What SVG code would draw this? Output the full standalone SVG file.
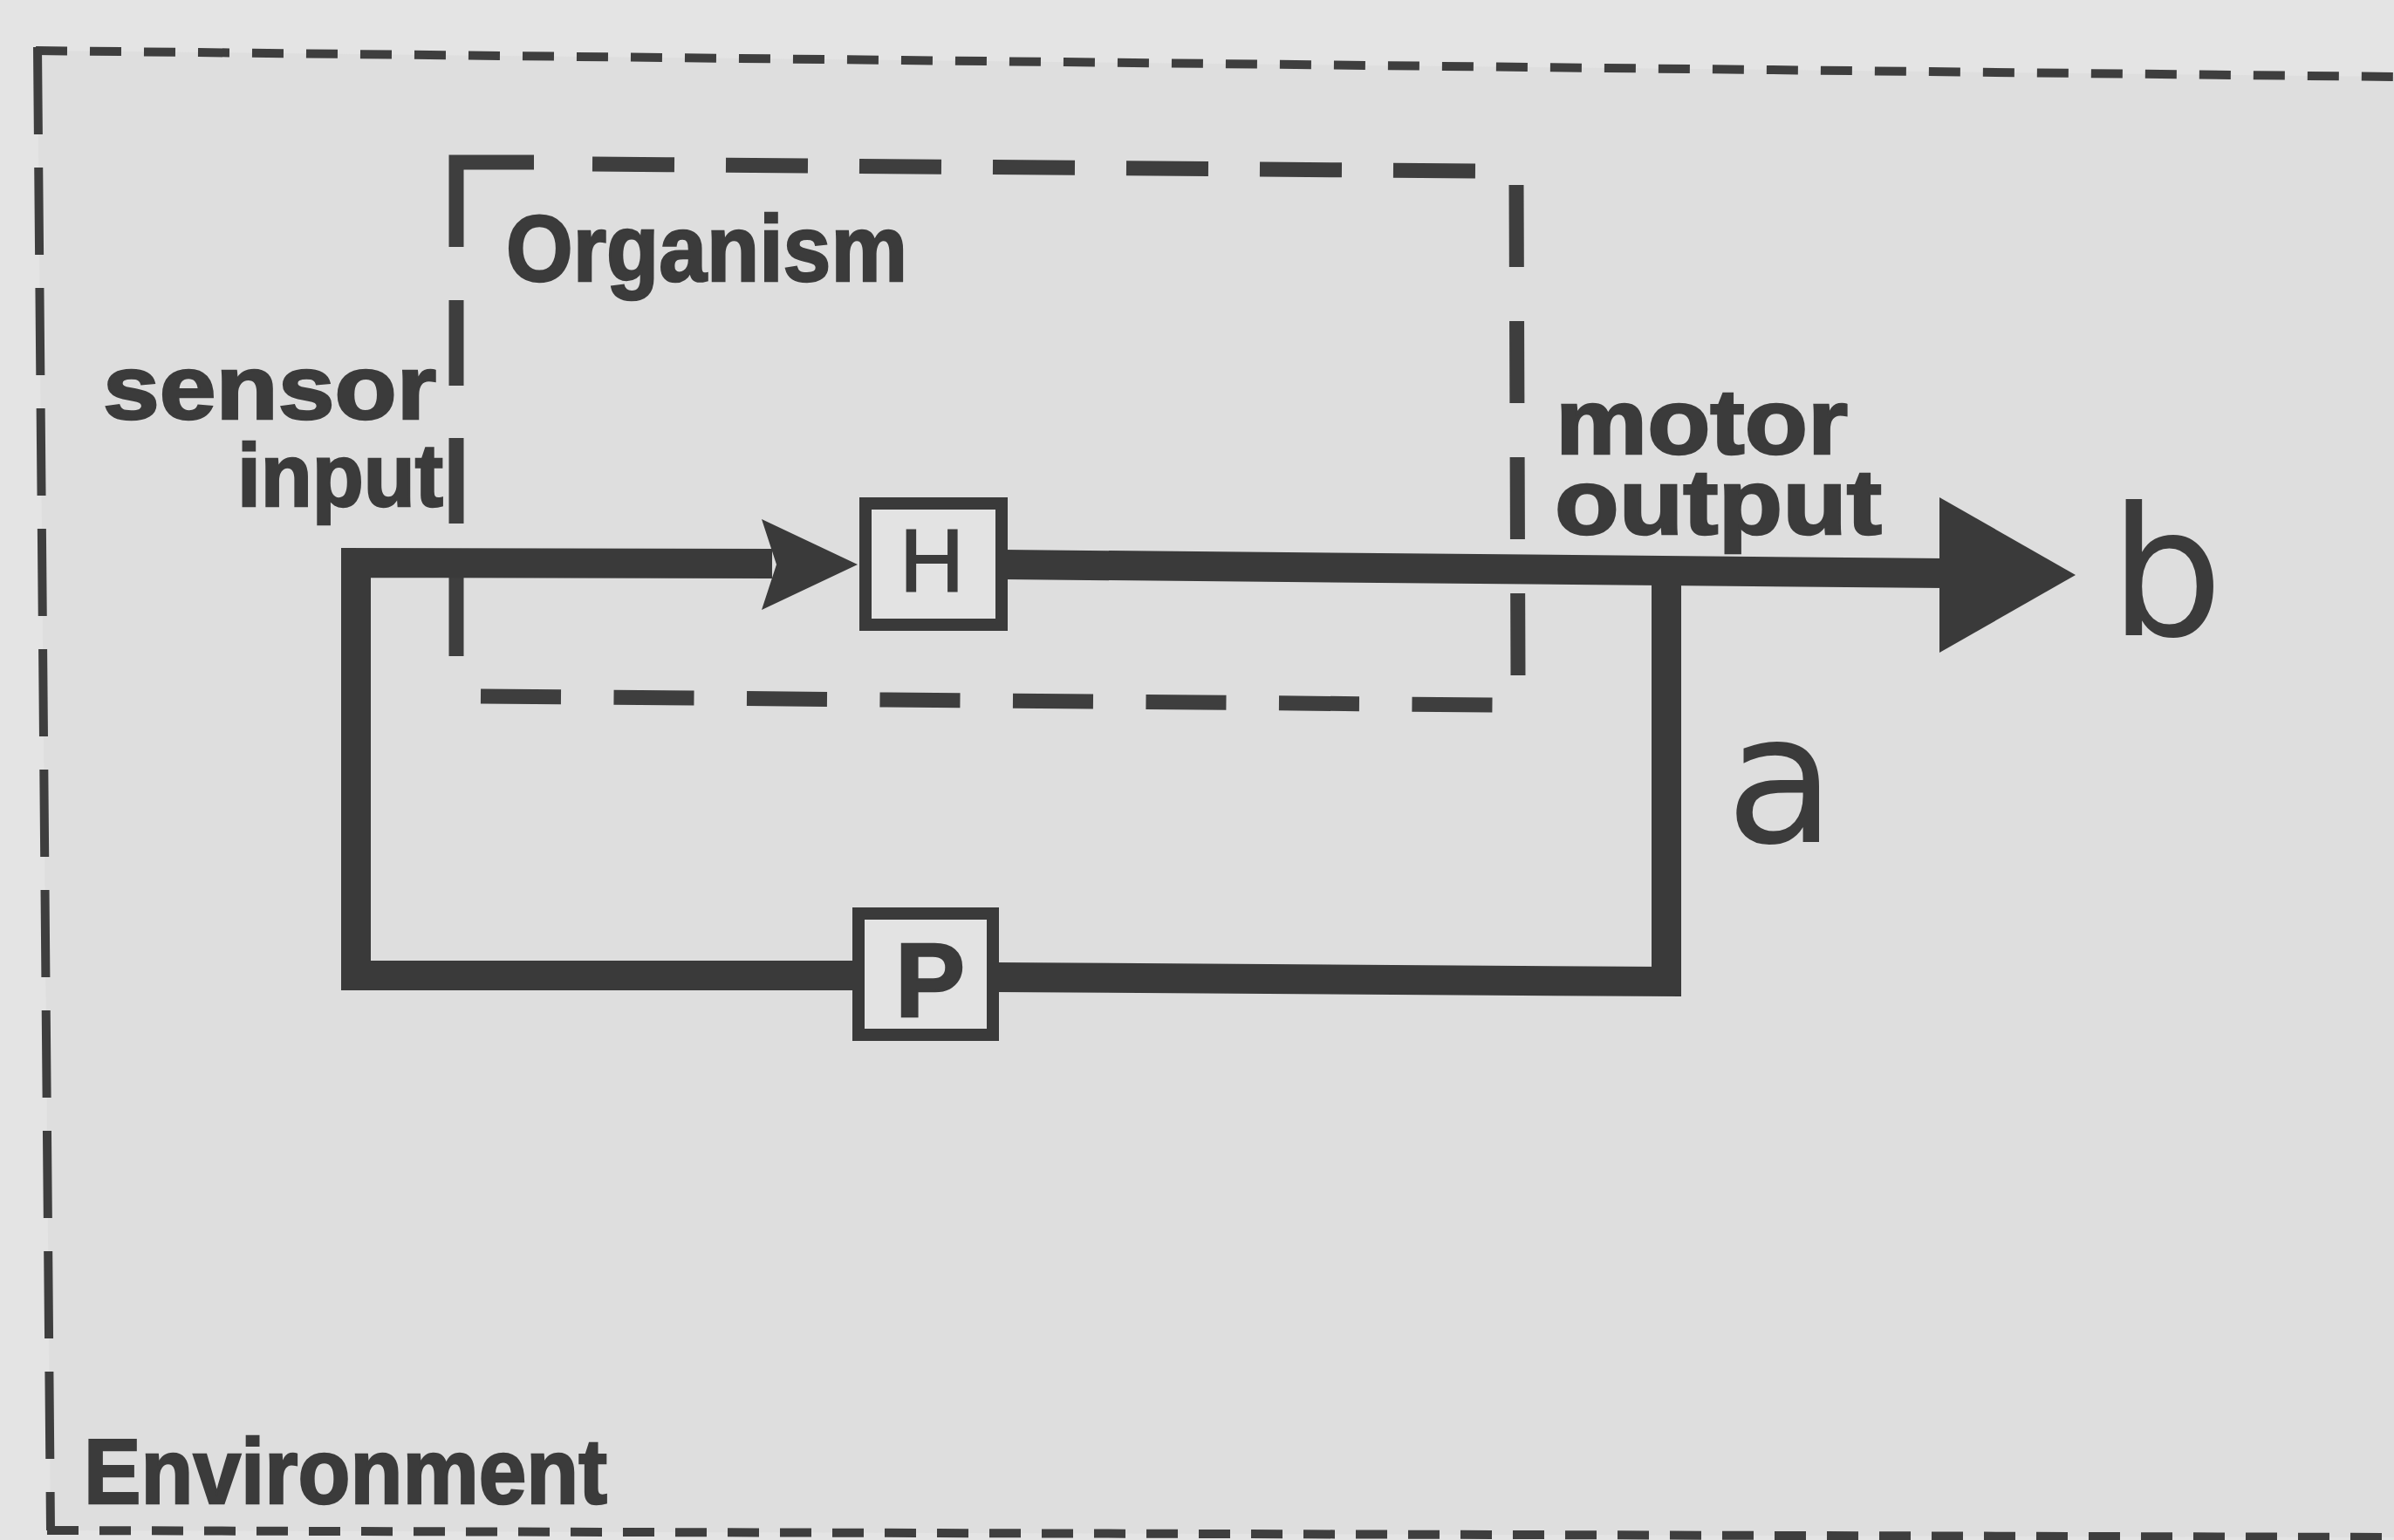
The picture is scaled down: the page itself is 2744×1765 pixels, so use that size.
<svg xmlns="http://www.w3.org/2000/svg" width="2744" height="1765" viewBox="0 0 2744 1765">
  <style>
    .lbl { font-family: "Liberation Sans", Arial, sans-serif; font-weight: bold; fill: #3b3b3b; stroke: #3b3b3b; stroke-width: 2.5; }
    .big { font-family: "DejaVu Sans", Verdana, sans-serif; fill: #3b3b3b; }
    .env { fill: none; stroke: #3e3e3e; stroke-width: 10; }
    .org { fill: none; stroke: #3e3e3e; stroke-width: 17; }
    .wire { fill: none; stroke: #3a3a3a; stroke-width: 34; stroke-linejoin: miter; stroke-linecap: butt; }
    .box { fill: #e3e3e3; stroke: #3a3a3a; stroke-width: 14; }
    .head { fill: #3a3a3a; }
  </style>
  <rect x="0" y="0" width="2744" height="1765" fill="#e4e4e4"/>
  <polygon points="43,58 2744,88 2744,1762 58,1754" fill="#dedede"/>

  <g id="environment">
    <line class="env" x1="41" y1="58" x2="2744" y2="88" stroke-dasharray="36 26"/>
    <line class="env" x1="43" y1="54" x2="58" y2="1754" stroke-dasharray="100 38"/>
    <line class="env" x1="54" y1="1754" x2="2744" y2="1762" stroke-dasharray="36 24"/>
    <text class="lbl" x="96" y="1723" font-size="105" textLength="600" lengthAdjust="spacingAndGlyphs">Environment</text>
  </g>

  <g id="organism">
    <path class="org" d="M523,283 L523,186 L612,186"/>
    <line class="org" x1="523" y1="344" x2="523" y2="752" stroke-dasharray="98 60"/>
    <line class="org" x1="679" y1="188" x2="1694" y2="196" stroke-dasharray="94 59"/>
    <line class="org" x1="1738" y1="212" x2="1740" y2="779" stroke-dasharray="94 62"/>
    <line class="org" x1="551" y1="798" x2="1715" y2="808" stroke-dasharray="92 60.5"/>
    <text class="lbl" x="580" y="322" font-size="108" textLength="460" lengthAdjust="spacingAndGlyphs">Organism</text>
  </g>

  <g id="connectors">
    <path class="wire" d="M985,1118 L408,1118 L408,645 L885,646"/>
    <polygon class="head" points="873,595 983,647 873,699 890,647"/>
    <line class="wire" x1="1150" y1="647" x2="2230" y2="657"/>
    <polygon class="head" points="2223,570 2379,659 2223,748"/>
    <path class="wire" d="M1140,1120 L1910,1125 L1910,640"/>
  </g>

  <g id="node-H">
    <rect class="box" x="992" y="577" width="156" height="139"/>
    <text x="1068" y="678" font-family="Liberation Sans, Arial, sans-serif" font-size="102" fill="#3b3b3b" stroke="#3b3b3b" stroke-width="2" text-anchor="middle">H</text>
  </g>

  <g id="node-P">
    <rect class="box" x="984" y="1047" width="154" height="139"/>
    <text class="lbl" x="1026" y="1165" font-size="120">P</text>
  </g>

  <g id="labels">
    <text class="lbl" x="118" y="480" font-size="104" textLength="382" lengthAdjust="spacingAndGlyphs">sensor</text>
    <text class="lbl" x="272" y="580" font-size="102" textLength="236" lengthAdjust="spacingAndGlyphs">input</text>
    <text class="lbl" x="1783" y="520" font-size="106" textLength="335" lengthAdjust="spacingAndGlyphs">motor</text>
    <text class="lbl" x="1782" y="612" font-size="106" textLength="375" lengthAdjust="spacingAndGlyphs">output</text>
    <text class="big" x="2418" y="728" font-size="205">b</text>
    <text class="big" x="1978" y="965" font-size="205">a</text>
  </g>
</svg>
